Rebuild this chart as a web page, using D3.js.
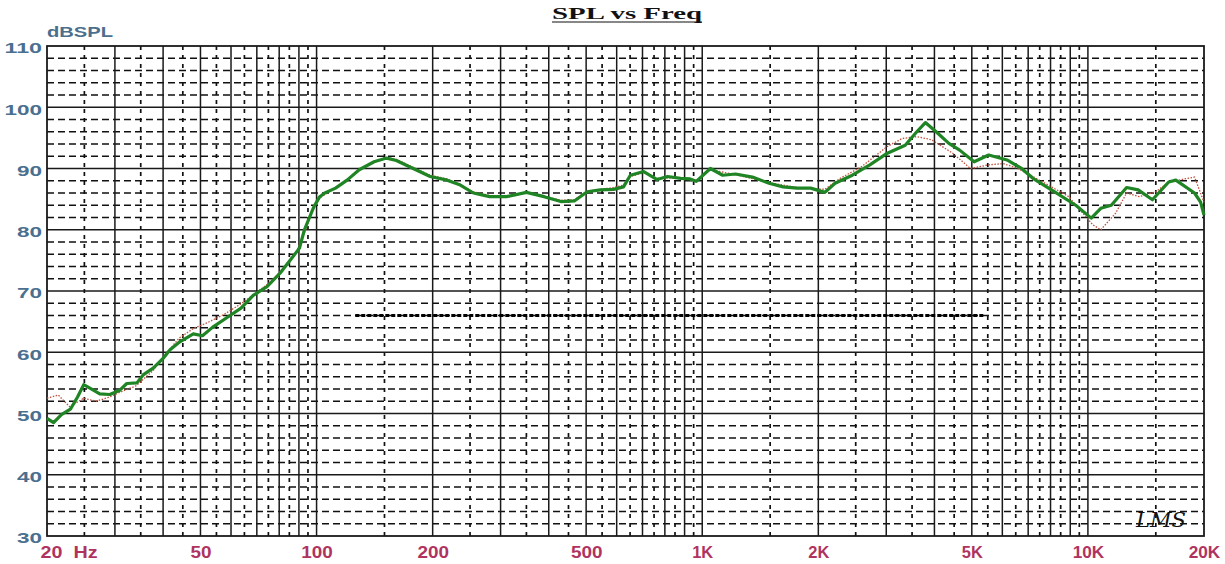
<!DOCTYPE html>
<html>
<head>
<meta charset="utf-8">
<script src="https://cdn.jsdelivr.net/npm/d3@7"></script>
<style>
  html, body { margin: 0; padding: 0; background: #ffffff; }
  svg { display: block; }
</style>
</head>
<body>
<div id="chart"></div>
<script>
// ---------------- DATA ----------------
const chartTitle = "SPL vs Freq";
const yAxisLabel = "dBSPL";
const yTickValues = [30, 40, 50, 60, 70, 80, 90, 100, 110];
const xTickValues = [20, 50, 100, 200, 500, 1000, 2000, 5000, 10000, 20000];
const xTickLabels = ["20\u00a0\u00a0Hz", "50", "100", "200", "500", "1K", "2K", "5K", "10K", "20K"];

// main measurement (green solid)
const greenFreq = [20, 20.8, 21.8, 23, 24, 24.9, 25.9, 27.4, 29.1, 30.9, 32.2, 34.2, 35.5, 37.7, 40, 41.7, 44.2, 47.9, 50.6, 53.8, 59, 63.7, 68.5, 74.4, 80.4, 86.8, 90.3, 93, 98.5, 101.9, 105, 112, 120, 129, 141, 152, 161, 178, 197, 218, 236, 255, 281, 311, 350, 389, 430, 466, 503, 544, 589, 625, 651, 705, 764, 813, 879, 930, 965, 1050, 1130, 1220, 1350, 1490, 1620, 1760, 1910, 2080, 2210, 2450, 2720, 3020, 3360, 3600, 3790, 4040, 4360, 4650, 5070, 5530, 6170, 6730, 7200, 8200, 9300, 10200, 10800, 11500, 12600, 13500, 14700, 16200, 16900, 18900, 19600, 20000];
const greenDb   = [49.2, 48.5, 49.8, 50.7, 52.7, 54.7, 54.1, 53.2, 53.1, 53.8, 54.9, 55.0, 56.3, 57.4, 59.0, 60.4, 61.7, 63.0, 62.7, 64.1, 65.8, 67.2, 69.3, 70.7, 72.9, 75.6, 77.0, 80.0, 83.8, 85.4, 86.0, 86.8, 88.1, 89.8, 91.1, 91.7, 91.3, 90.0, 88.7, 88.1, 87.3, 86.0, 85.4, 85.4, 86.1, 85.4, 84.6, 84.7, 86.2, 86.5, 86.6, 87.0, 88.9, 89.5, 88.2, 88.7, 88.4, 88.3, 87.9, 90.0, 88.9, 89.1, 88.6, 87.6, 87.0, 86.8, 86.8, 86.1, 87.6, 88.9, 90.6, 92.5, 93.8, 96.0, 97.5, 96.0, 94.1, 93.0, 91.1, 92.2, 91.4, 90.0, 88.4, 86.2, 84.0, 81.9, 83.5, 84.0, 86.9, 86.5, 84.9, 87.8, 88.1, 86.0, 84.5, 82.4];

// second measurement (red dotted)
const redFreq = [20, 21.4, 22.9, 24.9, 26.8, 29.1, 31, 34, 37.7, 40, 44, 48, 52, 58, 64, 70, 76, 82, 88, 93, 98, 102, 112, 120, 130, 141, 152, 161, 178, 197, 218, 255, 281, 311, 350, 389, 430, 466, 503, 589, 625, 651, 705, 764, 879, 965, 1050, 1220, 1490, 1760, 2080, 2280, 2590, 3020, 3300, 3600, 3930, 4460, 4960, 5530, 6040, 6580, 7200, 8920, 10300, 10800, 11800, 12600, 13600, 15000, 16200, 18900, 20000];
const redDb   = [52.5, 53.0, 51.1, 52.5, 52.0, 52.7, 53.5, 54.5, 57.0, 59.2, 62.3, 63.9, 64.8, 66.3, 68.0, 69.8, 71.5, 73.8, 76.0, 79.5, 83.3, 85.2, 86.9, 88.2, 89.9, 91.2, 91.8, 91.5, 90.2, 88.9, 88.3, 86.2, 85.6, 85.3, 86.0, 85.5, 84.8, 84.9, 86.3, 86.9, 87.3, 88.7, 89.3, 88.4, 88.5, 88.0, 89.8, 89.0, 87.7, 86.9, 86.6, 88.4, 90.3, 93.6, 94.9, 95.2, 94.7, 92.5, 90.0, 90.6, 90.8, 90.0, 88.7, 85.4, 80.8, 80.0, 82.7, 86.0, 85.4, 86.2, 87.8, 88.6, 84.5];

// reference level line (thick dotted)
const refFreq = [126, 5400];
const refDb = [66, 66];

// ---------------- LAYOUT ----------------
const W = 1225, H = 564;
const m = { left: 47, right: 1204, top: 46, bottom: 536 };

const svg = d3.select("#chart").append("svg")
  .attr("width", W).attr("height", H);

const x = d3.scaleLog().domain([20, 20000]).range([m.left, m.right]);
const y = d3.scaleLinear().domain([30, 110]).range([m.bottom, m.top]);

// grid frequencies
const solidX = [], dashedX = [];
[10, 100, 1000, 10000].forEach(dec => {
  for (let k = 1; k <= 9; k++) {
    const f = k * dec;
    if (f > 20 && f < 20000) solidX.push(f);
    const h = (k + 0.5) * dec;
    if (h > 20 && h < 20000) dashedX.push(h);
  }
});
const solidY = d3.range(40, 110, 10);
const dashedY = d3.range(32, 110, 2).filter(v => v % 10 !== 0);

const grid = svg.append("g");
grid.selectAll(".hd").data(dashedY).join("line")
  .attr("x1", m.left).attr("x2", m.right)
  .attr("y1", d => y(d)).attr("y2", d => y(d))
  .attr("stroke", "#111").attr("stroke-width", 1.4)
  .attr("stroke-dasharray", "7,4");
grid.selectAll(".vd").data(dashedX).join("line")
  .attr("x1", d => x(d)).attr("x2", d => x(d))
  .attr("y1", m.top).attr("y2", m.bottom)
  .attr("stroke", "#111").attr("stroke-width", 1.7)
  .attr("stroke-dasharray", "4,5");
grid.selectAll(".hs").data(solidY).join("line")
  .attr("x1", m.left).attr("x2", m.right)
  .attr("y1", d => y(d)).attr("y2", d => y(d))
  .attr("stroke", "#1a1a1a").attr("stroke-width", 1.5);
grid.selectAll(".vs").data(solidX).join("line")
  .attr("x1", d => x(d)).attr("x2", d => x(d))
  .attr("y1", m.top).attr("y2", m.bottom)
  .attr("stroke", "#1a1a1a").attr("stroke-width", 1.5);

// border
svg.append("rect")
  .attr("x", m.left).attr("y", m.top)
  .attr("width", m.right - m.left).attr("height", m.bottom - m.top)
  .attr("fill", "none").attr("stroke", "#1a1a1a").attr("stroke-width", 1.8);

// reference dotted line
const line = d3.line().x(d => x(d[0])).y(d => y(d[1]));
svg.append("path")
  .attr("d", line(refFreq.map((f, i) => [f, refDb[i]])))
  .attr("fill", "none").attr("stroke", "#000").attr("stroke-width", 3)
  .attr("stroke-dasharray", "4,2");

// curves
const lineC = d3.line().x(d => x(d[0])).y(d => y(d[1])).curve(d3.curveLinear);
svg.append("path")
  .attr("d", lineC(redFreq.map((f, i) => [f, redDb[i]])))
  .attr("fill", "none").attr("stroke", "#c0503c").attr("stroke-width", 1.3)
  .attr("stroke-dasharray", "1.5,1.5");
svg.append("path")
  .attr("d", lineC(greenFreq.map((f, i) => [f, greenDb[i]])))
  .attr("fill", "none").attr("stroke", "#1f8424").attr("stroke-width", 3.2)
  .attr("stroke-linejoin", "round");

// axes
const xAxis = d3.axisBottom(x).tickValues(xTickValues)
  .tickFormat((d, i) => xTickLabels[i]).tickSize(0).tickPadding(8);
const gx = svg.append("g").attr("transform", `translate(0,${m.bottom})`).call(xAxis);
gx.select(".domain").remove();
gx.selectAll("text")
  .attr("fill", "#b0335f")
  .attr("font-family", "Liberation Sans, Arial, sans-serif")
  .attr("font-weight", "bold").attr("font-size", 16)
  .attr("dy", "0.9em")
  .each(function(d, i) {
    const t = d3.select(this);
    const s = xTickLabels[i];
    if (i === 0) { t.attr("text-anchor", "start").attr("x", -7); }
    t.attr("textLength", i === 0 ? 57 : s.length * 10.5).attr("lengthAdjust", "spacingAndGlyphs");
  });

const yAxis = d3.axisLeft(y).tickValues(yTickValues).tickSize(0).tickPadding(5);
const gy = svg.append("g").attr("transform", `translate(${m.left},0)`).call(yAxis);
gy.select(".domain").remove();
gy.selectAll("text")
  .attr("fill", "#4b6f8e")
  .attr("font-family", "Liberation Sans, Arial, sans-serif")
  .attr("font-weight", "bold").attr("font-size", 15)
  .attr("dy", "0.45em")
  .each(function(d) {
    const s = String(d);
    d3.select(this).attr("textLength", s.length * 12.5).attr("lengthAdjust", "spacingAndGlyphs");
  });

// y unit label
svg.append("text")
  .attr("x", 47).attr("y", 37)
  .attr("fill", "#4b6f8e")
  .attr("font-family", "Liberation Sans, Arial, sans-serif")
  .attr("font-weight", "bold").attr("font-size", 14)
  .attr("textLength", 66).attr("lengthAdjust", "spacingAndGlyphs")
  .text(yAxisLabel);

// title
svg.append("text")
  .attr("x", 552).attr("y", 19)
  .attr("fill", "#111")
  .attr("font-family", "Liberation Serif, Times New Roman, serif")
  .attr("font-weight", "bold").attr("font-size", 17)
  .attr("textLength", 150).attr("lengthAdjust", "spacingAndGlyphs")
  .text(chartTitle);
svg.append("line")
  .attr("x1", 552).attr("x2", 702).attr("y1", 22).attr("y2", 22)
  .attr("stroke", "#111").attr("stroke-width", 1.2);

// logo
svg.append("text")
  .attr("x", 1136).attr("y", 527)
  .attr("fill", "#111")
  .attr("font-family", "DejaVu Serif, serif")
  .attr("font-style", "italic").attr("font-size", 21)
  .attr("textLength", 50).attr("lengthAdjust", "spacingAndGlyphs")
  .text("LMS");
</script>
</body>
</html>
